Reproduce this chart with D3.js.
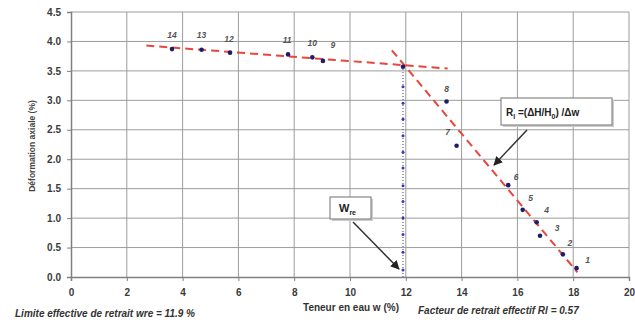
<!DOCTYPE html>
<html><head><meta charset="utf-8">
<script src="https://cdn.jsdelivr.net/npm/d3@7"></script>
<style>body{margin:0;background:#fff}svg{display:block}text{font-family:"Liberation Sans",Arial,sans-serif}</style>
</head><body><svg id="c" width="635" height="327"></svg>
<script>
// Data
const pointIds = [14,13,12,11,10,9,0,8,7,6,5,4,3,2,1];
const waterContent = [3.62,4.68,5.70,7.78,8.65,9.03,11.9,13.46,13.82,15.67,16.19,16.69,16.81,17.63,18.12];
const axialDef = [3.87,3.86,3.81,3.78,3.73,3.67,3.57,2.98,2.23,1.56,1.14,0.93,0.70,0.385,0.15];
const trend1X = [2.7, 13.5], trend1Y = [3.93, 3.54];
const trend2X = [11.5, 18.15], trend2Y = [3.85, 0.08];
const wre = 11.9, wreTop = 3.57;
const wreDots = [0.12,0.42,0.72,1.0,1.28,1.55,1.85,2.12,2.4,2.68,2.95,3.23];
const xTicks = [0,2,4,6,8,10,12,14,16,18,20];
const yTicks = [0,0.5,1,1.5,2,2.5,3,3.5,4,4.5];

// Layout
const svg = d3.select("#c");
const m = {l:71, r:629, t:12, b:277};
const x = d3.scaleLinear().domain([0,20]).range([m.l, m.r]);
const y = d3.scaleLinear().domain([0,4.5]).range([m.b, m.t]);

// grid
svg.append("g").selectAll("line.v").data(xTicks.slice(1)).join("line")
  .attr("x1",d=>x(d)).attr("x2",d=>x(d)).attr("y1",m.t).attr("y2",m.b)
  .attr("stroke","#9c9c9c").attr("stroke-width",1);
svg.append("g").selectAll("line.h").data(yTicks.slice(1)).join("line")
  .attr("x1",m.l).attr("x2",m.r).attr("y1",d=>y(d)).attr("y2",d=>y(d))
  .attr("stroke","#9c9c9c").attr("stroke-width",1);

// axes
const xa = svg.append("g").attr("transform",`translate(0,${m.b})`)
  .call(d3.axisBottom(x).tickValues(xTicks).tickFormat(d3.format("d")).tickSize(4).tickPadding(8));
const ya = svg.append("g").attr("transform",`translate(${m.l},0)`)
  .call(d3.axisLeft(y).tickValues(yTicks).tickFormat(d3.format(".1f")).tickSize(4).tickPadding(6));
[xa,ya].forEach(a=>{
  a.select(".domain").attr("stroke","#808080").attr("stroke-width",1.5);
  a.selectAll(".tick line").attr("stroke","#808080");
  a.selectAll(".tick text").attr("fill","#3a3a3a").attr("font-size",10).attr("font-weight","bold")
   .attr("font-family","Liberation Sans, Arial, sans-serif");
});

// trend lines
const line = d3.line().x(d=>x(d[0])).y(d=>y(d[1]));
svg.append("path").attr("d",line(trend1X.map((v,i)=>[v,trend1Y[i]])))
  .attr("stroke","#e8453c").attr("stroke-width",2).attr("stroke-dasharray","8,5").attr("fill","none");
svg.append("path").attr("d",line(trend2X.map((v,i)=>[v,trend2Y[i]])))
  .attr("stroke","#e8453c").attr("stroke-width",2).attr("stroke-dasharray","8,5").attr("fill","none");

// wre vertical dotted
svg.append("line").attr("x1",x(wre)).attr("x2",x(wre)).attr("y1",y(0)).attr("y2",y(wreTop))
  .attr("stroke","#5a5ad0").attr("stroke-width",1.2).attr("stroke-dasharray","1,2");
svg.append("g").selectAll("circle").data(wreDots).join("circle")
  .attr("cx",x(wre)).attr("cy",d=>y(d)).attr("r",1.5).attr("fill","#3a3ab0");

// points
svg.append("g").selectAll("circle").data(waterContent).join("circle")
  .attr("cx",d=>x(d)).attr("cy",(d,i)=>y(axialDef[i])).attr("r",2.3).attr("fill","#1e1e66");

// point labels
const lblOff = {14:[0,-14],13:[0,-15],12:[-1,-14],11:[-1,-14],10:[0,-14],9:[10,-16],8:[0,-13],7:[-9,-14],
  6:[8,-8],5:[8,-12],4:[10,-12],3:[17,-8],2:[7,-11],1:[11,-8]};
svg.append("g").selectAll("text").data(pointIds.map((id,i)=>({id,i})).filter(d=>d.id>0)).join("text")
  .attr("x",d=>x(waterContent[d.i])+lblOff[d.id][0])
  .attr("y",d=>y(axialDef[d.i])+lblOff[d.id][1]+3)
  .attr("text-anchor","middle").attr("font-size",8.5).attr("font-style","italic").attr("font-weight","bold")
  .attr("fill","#555").text(d=>d.id);

// arrow marker
svg.append("defs").append("marker").attr("id","ah").attr("viewBox","0 0 10 10").attr("refX",9).attr("refY",5)
  .attr("markerWidth",6).attr("markerHeight",6).attr("orient","auto")
  .append("path").attr("d","M0,0 L10,5 L0,10 z").attr("fill","#222");

// Rl box
svg.append("rect").attr("x",503).attr("y",100).attr("width",111).attr("height",27).attr("fill","#ccc");
svg.append("rect").attr("x",501).attr("y",98).attr("width",111).attr("height",27).attr("fill","#fff").attr("stroke","#888").attr("stroke-width",1.2);
const rt = svg.append("text").attr("x",506).attr("y",116).attr("font-size",10).attr("font-weight","bold").attr("fill","#222");
rt.append("tspan").text("R");
rt.append("tspan").attr("font-size",7).attr("dy",3).text("l");
rt.append("tspan").attr("dy",-3).text(" =(ΔH/H");
rt.append("tspan").attr("font-size",7).attr("dy",3).text("0");
rt.append("tspan").attr("dy",-3).text(") /Δw");
svg.append("line").attr("x1",527).attr("y1",130).attr("x2",494).attr("y2",165)
  .attr("stroke","#333").attr("stroke-width",1.5).attr("marker-end","url(#ah)");

// wre box
svg.append("rect").attr("x",332).attr("y",199).attr("width",41).attr("height",22).attr("fill","#ccc");
svg.append("rect").attr("x",330).attr("y",197).attr("width",41).attr("height",22).attr("fill","#fff").attr("stroke","#888").attr("stroke-width",1.2);
const wt = svg.append("text").attr("x",339).attr("y",212).attr("font-size",11).attr("font-weight","bold").attr("fill","#222");
wt.append("tspan").text("W");
wt.append("tspan").attr("font-size",7).attr("dy",3).text("re");
svg.append("line").attr("x1",353).attr("y1",222).attr("x2",399).attr("y2",269)
  .attr("stroke","#333").attr("stroke-width",1.5).attr("marker-end","url(#ah)");

// axis titles
svg.append("text").attr("transform","translate(35,146) rotate(-90)").attr("text-anchor","middle")
  .attr("font-size",8.5).attr("font-weight","bold").attr("fill","#444").text("Déformation axiale (%)");
svg.append("text").attr("x",351).attr("y",311).attr("text-anchor","middle")
  .attr("font-size",10).attr("font-weight","bold").attr("fill","#333").text("Teneur en eau w (%)");
svg.append("text").attr("x",15).attr("y",317)
  .attr("font-size",10).attr("font-weight","bold").attr("font-style","italic").attr("fill","#333")
  .text("Limite effective de retrait wre = 11.9 %");
svg.append("text").attr("x",418).attr("y",314)
  .attr("font-size",10).attr("font-weight","bold").attr("font-style","italic").attr("fill","#333")
  .text("Facteur de retrait effectif Rl = 0.57");
</script></body></html>
